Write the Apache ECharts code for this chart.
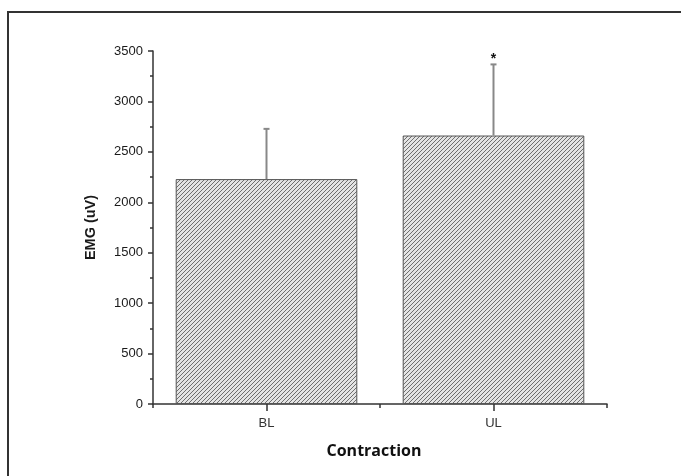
<!DOCTYPE html>
<html>
<head>
<meta charset="utf-8">
<script src="https://cdn.jsdelivr.net/npm/echarts@6/dist/echarts.min.js"></script>
<style>
html,body{margin:0;padding:0;background:#fff;}
#chart{width:681px;height:476px;}
</style>
</head>
<body>
<div id="chart"></div>
<script>
const categories = ['BL', 'UL'];
const means = [2230, 2662];
const upperErrors = [498, 705];
const sigMarks = ['', '*'];
const yTicks = [0, 500, 1000, 1500, 2000, 2500, 3000, 3500];

function makeHatch() {
  const c = document.createElement('canvas');
  const s = 4;
  c.width = s; c.height = s;
  const ctx = c.getContext('2d');
  ctx.fillStyle = '#e4e4e4';
  ctx.fillRect(0, 0, s, s);
  ctx.strokeStyle = '#6e6e6e';
  ctx.lineWidth = 1.0;
  ctx.beginPath();
  ctx.moveTo(-1, s + 1); ctx.lineTo(s + 1, -1);
  ctx.moveTo(-1, 1); ctx.lineTo(1, -1);
  ctx.moveTo(s - 1, s + 1); ctx.lineTo(s + 1, s - 1);
  ctx.stroke();
  return c;
}

const chart = echarts.init(document.getElementById('chart'), null, {renderer: 'canvas'});
const errData = categories.map((c, i) => [i, means[i], means[i] + upperErrors[i], sigMarks[i]]);

chart.setOption({
  animation: false,
  backgroundColor: '#fff',
  graphic: [{
    type: 'rect', shape: {x: 8, y: 12, width: 720, height: 520},
    style: {fill: 'none', stroke: '#333', lineWidth: 2}, silent: true
  }],
  grid: {left: 153, right: 74, top: 51, bottom: 72},
  xAxis: [{
    type: 'category', data: categories,
    axisLine: {lineStyle: {color: '#333', width: 1.5}},
    axisTick: {show: true, length: 4, lineStyle: {color: '#333', width: 1.5}},
    axisLabel: {show: false},
    name: 'Contraction', nameLocation: 'middle', nameGap: 39,
    nameTextStyle: {fontFamily: 'Open Sans', fontWeight: 'bold', fontSize: 16, color: '#111', padding: [0, 12, 0, 0]}
  }, {
    type: 'category', data: categories, position: 'bottom',
    axisLine: {show: false},
    axisTick: {show: true, alignWithLabel: true, length: 7, lineStyle: {color: '#333', width: 1.5}},
    axisLabel: {margin: 13, fontFamily: 'Liberation Sans', fontSize: 13, color: '#333'}
  }],
  yAxis: {
    type: 'value', min: 0, max: 3500, interval: 500,
    axisLine: {show: true, lineStyle: {color: '#333', width: 1.5}},
    axisTick: {show: true, length: 5, lineStyle: {color: '#333', width: 1.5}},
    minorTick: {show: true, splitNumber: 2, length: 3, lineStyle: {color: '#333', width: 1.5}},
    splitLine: {show: false},
    axisLabel: {margin: 10, fontFamily: 'Liberation Sans', fontSize: 13, color: '#1a1a1a',
      formatter: v => yTicks.includes(v) ? String(v) : ''},
    name: 'EMG (uV)', nameLocation: 'middle', nameGap: 55,
    nameTextStyle: {fontFamily: 'Liberation Sans', fontWeight: 'bold', fontSize: 14.5, color: '#1a1a1a'}
  },
  series: [{
    type: 'bar', data: means, barWidth: '80%', xAxisIndex: 0,
    itemStyle: {color: {image: makeHatch(), repeat: 'repeat'}, borderColor: '#555', borderWidth: 1}
  }, {
    type: 'custom', xAxisIndex: 0, data: errData, z: 5,
    renderItem: function (params, api) {
      const i = api.value(0);
      const b = api.coord([i, api.value(1)]);
      const t = api.coord([i, api.value(2)]);
      const children = [
        {type: 'line', shape: {x1: b[0], y1: b[1], x2: t[0], y2: t[1]}, style: {stroke: '#888', lineWidth: 2}},
        {type: 'line', shape: {x1: t[0] - 3, y1: t[1], x2: t[0] + 3, y2: t[1]}, style: {stroke: '#888', lineWidth: 2}}
      ];
      const mark = sigMarks[i];
      if (mark) {
        children.push({type: 'text', style: {text: mark, x: t[0], y: t[1] + 2, textAlign: 'center', textVerticalAlign: 'bottom',
          font: 'bold 14px "Liberation Sans"', fill: '#111'}});
      }
      return {type: 'group', children: children};
    }
  }]
});
</script>
</body>
</html>
